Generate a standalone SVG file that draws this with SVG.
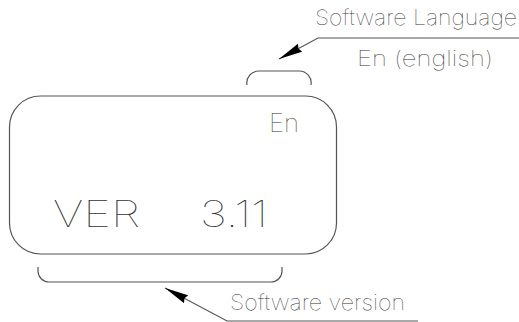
<svg xmlns="http://www.w3.org/2000/svg" width="519" height="322" viewBox="0 0 519 322">
<defs>
<style>
.ln{fill:none;stroke:#555;stroke-width:1.2}
.t{font-family:"Inter","DejaVu Sans",sans-serif;font-weight:100;fill:#333}
</style>
<marker id="ah" viewBox="0 0 24 9" refX="24" refY="4.5" markerWidth="24" markerHeight="9" markerUnits="userSpaceOnUse" orient="auto">
<path d="M24,4.5 L0,0 L2,4.5 L0,9 Z" fill="#000"/>
</marker>
</defs>
<rect width="519" height="322" fill="#fff"/>
<g id="display">
<rect class="ln" x="9.5" y="96" width="327" height="158" rx="31" ry="31"/>
<text class="t" x="269" y="132" font-size="25" textLength="30" lengthAdjust="spacingAndGlyphs">En</text>
<text class="t" x="53" y="227" font-size="37" textLength="87" lengthAdjust="spacingAndGlyphs">VER</text>
<text class="t" x="200" y="227" font-size="37" textLength="68" lengthAdjust="spacingAndGlyphs">3.11</text>
</g>
<g id="lang-bracket">
<path class="ln" d="M247,85 A12,12 0 0 1 259,71 L299,71 A12,12 0 0 1 311,85"/>
</g>
<g id="ver-bracket">
<path class="ln" d="M38,267 L38,271 A11,11 0 0 0 49,282 L271,282 A11,11 0 0 0 282,271 L282,267"/>
</g>
<g id="connectors">
<path class="ln" d="M519,38 L318,38 L279,59" marker-end="url(#ah)"/>
<path class="ln" d="M418,321 L227,321 L165,288" marker-end="url(#ah)"/>
</g>
<g id="lang-label">
<text class="t" x="315" y="25" font-size="21" textLength="202" lengthAdjust="spacingAndGlyphs">Software Language</text>
<text class="t" x="357" y="66" font-size="21" textLength="136" lengthAdjust="spacingAndGlyphs">En (english)</text>
</g>
<g id="ver-label">
<text class="t" x="230" y="310" font-size="22" textLength="175" lengthAdjust="spacingAndGlyphs">Software version</text>
</g>
</svg>
